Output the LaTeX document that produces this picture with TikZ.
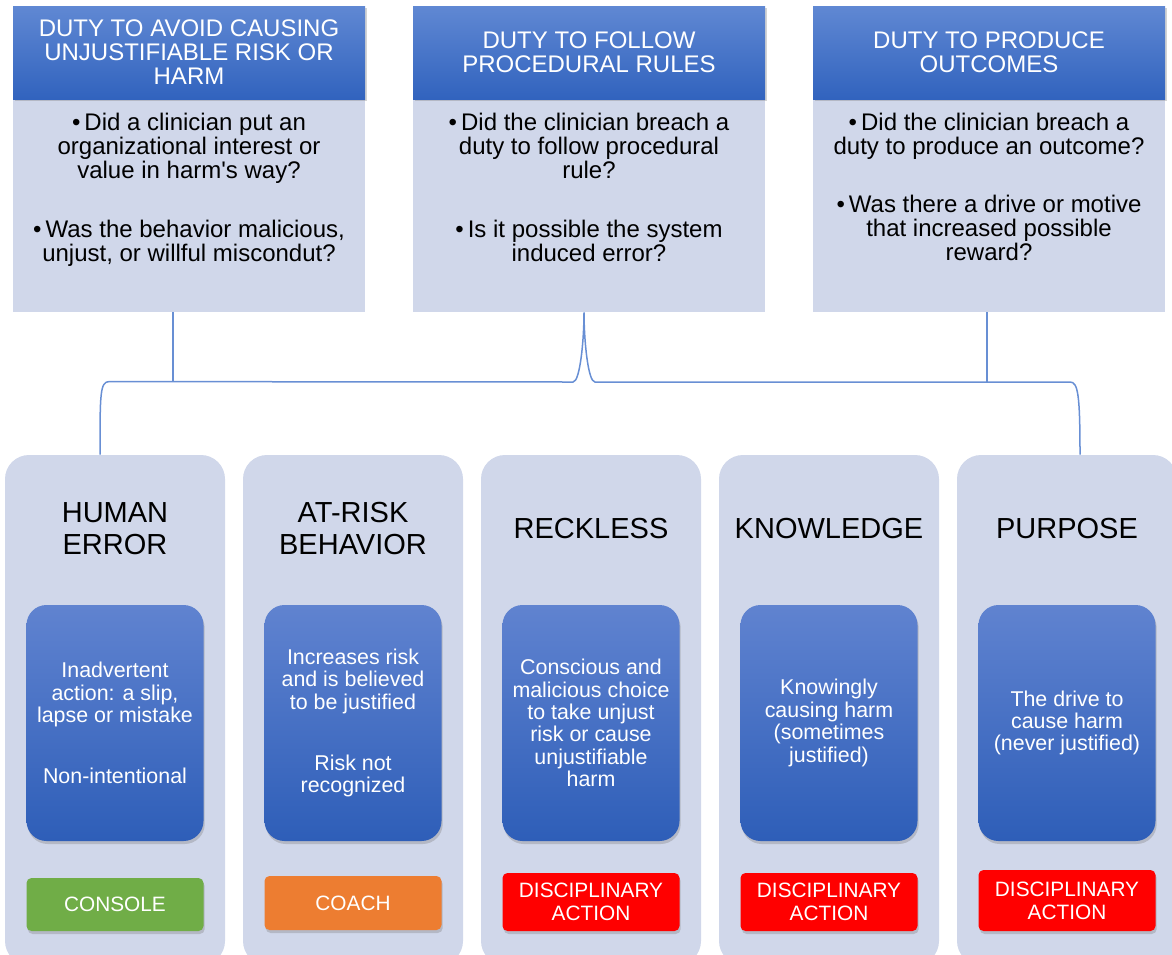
\documentclass[tikz,border=0pt]{standalone}
\usepackage{fontspec}
\setmainfont{Liberation Sans}
\usetikzlibrary{positioning,shadows}

\definecolor{lav}{RGB}{208,215,234}
\definecolor{hdtop}{RGB}{96,136,211}
\definecolor{hdbot}{RGB}{49,99,190}
\definecolor{bxtop}{RGB}{96,131,208}
\definecolor{bxbot}{RGB}{46,94,184}
\definecolor{linkblue}{RGB}{104,143,212}
\definecolor{consolegreen}{RGB}{112,173,71}
\definecolor{coachorange}{RGB}{237,125,49}
\definecolor{discred}{RGB}{255,0,0}

\begin{document}
\begin{tikzpicture}[x=0.5pt,y=-0.5pt,node distance=119pt,
  hdbox/.style={rectangle,minimum width=176pt,minimum height=46.5pt,inner sep=0pt,
    top color=hdtop,bottom color=hdbot,text=white,align=center,
    font=\fontsize{12}{12}\selectfont,
    drop shadow={shadow xshift=0.8pt,shadow yshift=-1.2pt,opacity=0.35}},
  bdbox/.style={rectangle,fill=lav,minimum width=176pt,minimum height=107pt,inner sep=0pt},
  qtext/.style={anchor=north,align=center,inner sep=0pt,font=\fontsize{12}{12}\selectfont},
  column/.style={rectangle,rounded corners=12pt,fill=lav,minimum width=110pt,minimum height=255pt},
  ctitle/.style={align=center,inner sep=0pt,font=\fontsize{14.5}{16}\selectfont},
  inbox/.style={rectangle,rounded corners=10pt,top color=bxtop,bottom color=bxbot,text=white,
    minimum width=88.5pt,minimum height=118pt,inner sep=0pt,align=center,
    font=\fontsize{10.7}{11.2}\selectfont,
    drop shadow={shadow xshift=0.6pt,shadow yshift=-1.5pt,opacity=0.35}},
  btn/.style={rectangle,rounded corners=2.5pt,text=white,minimum width=88.5pt,inner sep=0pt,
    align=center,font=\fontsize{10.4}{11.5}\selectfont,
    drop shadow={shadow xshift=0.6pt,shadow yshift=-1.5pt,opacity=0.35}},
  link/.style={draw=linkblue,line width=0.75pt}]

\clip (0,0) rectangle (1172,954);

% duties
\node[bdbox] (bd1) at (189,205) {};
\node[bdbox,node distance=200pt] (bd2) [right of=bd1] {};
\node[bdbox,node distance=200pt] (bd3) [right of=bd2] {};

\node[hdbox] (dut1) at (189,52.5) {DUTY TO AVOID CAUSING\\UNJUSTIFIABLE RISK OR\\HARM};
\node[hdbox,node distance=200pt] (dut2) [right of=dut1] {DUTY TO FOLLOW\\PROCEDURAL RULES};
\node[hdbox,node distance=200pt] (dut3) [right of=dut2] {DUTY TO PRODUCE\\OUTCOMES};

\node[qtext] (q1) at ([yshift=-7.5pt]bd1.north)
  {\textbullet\,Did a clinician put an\\organizational interest or\\value in harm\textquotesingle s way?\\[17.5pt]
   \textbullet\,Was the behavior malicious,\\unjust, or willful miscondut?};
\node[qtext] (q2) at ([yshift=-7.5pt]bd2.north)
  {\textbullet\,Did the clinician breach a\\duty to follow procedural\\rule?\\[17.5pt]
   \textbullet\,Is it possible the system\\induced error?};
\node[qtext] (q3) at ([yshift=-7.5pt]bd3.north)
  {\textbullet\,Did the clinician breach a\\duty to produce an outcome?\\[17pt]
   \textbullet\,Was there a drive or motive\\that increased possible\\reward?};

% behaviours
\node[column] (hum) at (115,710) {};
\node[column] (atr) [right of=hum] {};
\node[column] (rec) [right of=atr] {};
\node[column] (kno) [right of=rec] {};
\node[column] (pur) [right of=kno] {};

\node[ctitle] (humt) at (115,529) {HUMAN\\ERROR};
\node[ctitle] (atrt) [right of=humt] {AT-RISK\\BEHAVIOR};
\node[ctitle] (rect) [right of=atrt] {RECKLESS};
\node[ctitle] (knot) [right of=rect] {KNOWLEDGE};
\node[ctitle] (purt) [right of=knot] {PURPOSE};

\node[inbox] (humb) at (115,723)
  {Inadvertent\\action: a slip,\\lapse or mistake\\[19.3pt]Non-intentional};
\node[inbox] (atrb) [right of=humb]
  {Increases risk\\and is believed\\to be justified\\[19.3pt]Risk not\\recognized};
\node[inbox] (recb) [right of=atrb]
  {Conscious and\\malicious choice\\to take unjust\\risk or cause\\unjustifiable\\harm};
\node[inbox] (knob) [right of=recb]
  {Knowingly\\causing harm\\(sometimes\\justified)};
\node[inbox] (purb) [right of=knob]
  {The drive to\\cause harm\\(never justified)};

\node[btn,fill=consolegreen,minimum height=26.5pt] (humc) at (115,904.5) {CONSOLE};
\node[btn,fill=coachorange,minimum height=27pt] (atrc) at (353,903) {COACH};
\node[btn,fill=discred,minimum height=29pt] (recc) at (591,902) {DISCIPLINARY\\ACTION};
\node[btn,fill=discred,minimum height=29pt] (knoc) at (829,902) {DISCIPLINARY\\ACTION};
\node[btn,fill=discred,minimum height=30.5pt] (purc) at (1067,900.5) {DISCIPLINARY\\ACTION};

% brace
\coordinate (bar) at (0,382);
\draw[link] ([xshift=-8pt]bd1.south) -- ([xshift=-8pt]bd1.south |- bar);
\draw[link] ([xshift=-1pt]bd3.south) -- ([xshift=-1pt]bd3.south |- bar);
\draw[link] ([xshift=-7.5pt]hum.north) .. controls +(0,-60) and +(-9,0) .. ++(9,-73)
  -- ([xshift=-8pt]bd2.south |- bar) .. controls +(7,0) and +(0,28) .. ([xshift=-2.5pt]bd2.south)
  .. controls +(0,28) and +(-7,0) .. ([xshift=3pt]bd2.south |- bar)
  -- ([xshift=1.5pt]pur.north |- bar) .. controls +(8,0) and +(0,-60) .. ([xshift=6.5pt]pur.north);

\end{tikzpicture}
\end{document}
